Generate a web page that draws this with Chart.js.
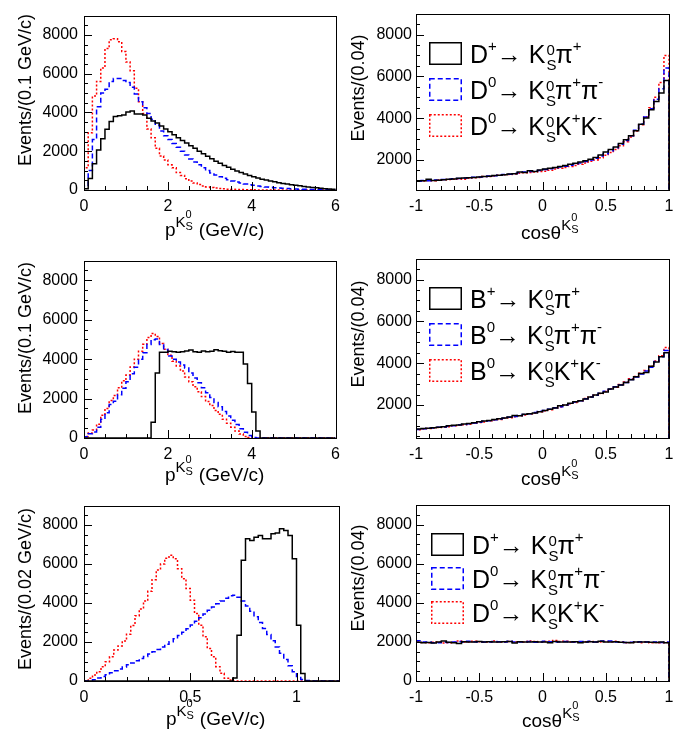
<!DOCTYPE html>
<html lang="en">
<head>
<meta charset="UTF-8">
<title>K_S momentum and helicity angle distributions</title>
<script src="https://cdn.jsdelivr.net/npm/chart.js"></script>
<style>
    body { margin: 0; background: #fff; }
    #page {
        position: relative;
        width: 694px;
        height: 739px;
        overflow: hidden;
        font-family: "Liberation Sans", Arial, Helvetica, sans-serif;
        color: #000;
    }
    canvas { position: absolute; }
    .ytitle {
        position: absolute;
        font-size: 18px;
        line-height: 18px;
        white-space: nowrap;
        transform: translate(-50%, -50%) rotate(-90deg);
    }
    .xtitle { position: absolute; font-size: 19px; line-height: 19px; white-space: nowrap; }
    .xtitle .k { position: relative; top: -9px; font-size: 15px; }
    .xtitle .ss { display: inline-block; position: relative; width: 8px; height: 0; }
    .xtitle .ss span { position: absolute; left: 0; font-size: 11px; line-height: 11px; }
    .xtitle .ss .u { top: -27px; }
    .xtitle .ss .d { top: -15px; }
    .key { position: absolute; width: 33px; height: 23px; }
    .leg { position: absolute; font-size: 25px; line-height: 25px; white-space: nowrap; }
    .leg .sp { position: relative; top: -12px; font-size: 15px; }
    .leg .ss { display: inline-block; position: relative; width: 10px; height: 0; }
    .leg .ss span { position: absolute; left: 1px; font-size: 15px; line-height: 15px; }
    .leg .ss .u { top: -21px; }
    .leg .ss .d { top: -6px; }
</style>
</head>
<body>
<div id="page"></div>
<script>
// ---- data (events per bin) ----
// bins: [first edge, bin width]
const pBins = [0, 0.1];       // 60 bins, 0..6 GeV/c
const pBinsFine = [0, 0.02];  // 60 bins, 0..1.2 GeV/c
const cosBins = [-1, 0.04];   // 50 bins, -1..1

// top row, D decays
const pDplusKspi = [60, 590, 1350, 2060, 2640, 3130, 3540, 3790, 3830, 3870,
    4030, 4080, 3920, 3920, 3870, 3700, 3560, 3460, 3300, 3150,
    3000, 2850, 2700, 2560, 2420, 2280, 2150, 2000, 1870, 1740,
    1610, 1490, 1380, 1270, 1170, 1070, 980, 900, 820, 750,
    680, 620, 560, 510, 460, 420, 380, 340, 305, 275,
    245, 215, 185, 160, 135, 110, 90, 70, 50, 35];
const pD0Kspipi = [200, 1000, 2600, 4300, 5000, 5200, 5600, 5750, 5750, 5650,
    5550, 5300, 4950, 4550, 4250, 3950, 3650, 3350, 3050, 2800,
    2600, 2400, 2200, 2000, 1800, 1600, 1450, 1300, 1150, 1000,
    880, 780, 690, 600, 530, 470, 410, 360, 310, 270,
    240, 210, 180, 160, 140, 120, 100, 85, 72, 60,
    50, 42, 35, 28, 22, 18, 14, 10, 8, 6];
const pD0KsKK = [1150, 2950, 4850, 5600, 6300, 7300, 7750, 7800, 7650, 7150,
    6600, 6150, 5250, 4550, 3950, 3150, 2700, 2150, 1750, 1550,
    1300, 1150, 900, 750, 580, 460, 360, 280, 210, 160,
    130, 100, 80, 60, 45, 35, 25, 20, 15, 10,
    8, 6, 5, 4, 3, 2, 2, 1, 1, 1,
    0, 0, 0, 0, 0, 0, 0, 0, 0, 0];
const cosDplusKspi = [1000, 1000, 1080, 1020, 1030, 1050, 1080, 1090, 1120, 1140,
    1150, 1160, 1180, 1200, 1220, 1250, 1270, 1290, 1320, 1340,
    1420, 1400, 1480, 1440, 1520, 1570, 1600, 1640, 1690, 1730,
    1790, 1840, 1900, 1960, 2030, 2120, 2230, 2380, 2500, 2620,
    2780, 2960, 3150, 3400, 3700, 4000, 4400, 4800, 5200, 5800];
const cosD0Kspipi = [980, 1010, 1000, 1040, 1030, 1060, 1070, 1100, 1110, 1130,
    1150, 1170, 1180, 1190, 1230, 1240, 1280, 1300, 1310, 1350,
    1380, 1420, 1440, 1470, 1490, 1540, 1580, 1610, 1660, 1700,
    1740, 1800, 1850, 1920, 1990, 2080, 2190, 2300, 2440, 2580,
    2750, 2930, 3150, 3420, 3720, 4050, 4450, 4900, 5400, 6400];
const cosD0KsKK = [990, 990, 1020, 1000, 1040, 1050, 1060, 1070, 1090, 1080,
    1120, 1150, 1160, 1200, 1210, 1230, 1260, 1290, 1300, 1320,
    1360, 1380, 1400, 1420, 1450, 1460, 1500, 1560, 1600, 1640,
    1690, 1730, 1790, 1850, 1930, 2000, 2100, 2220, 2350, 2500,
    2680, 2870, 3100, 3380, 3680, 4050, 4500, 5000, 5700, 7000];

// middle row, B decays
const pBplusKspi = [0, 0, 0, 0, 0, 0, 0, 0, 0, 0,
    0, 0, 0, 0, 0, 0, 800, 3300, 4350, 4350,
    4400, 4380, 4350, 4380, 4420, 4470, 4380, 4350, 4420, 4380,
    4400, 4480, 4430, 4400, 4350, 4390, 4350, 4350, 3750, 2770,
    1320, 350, 0, 0, 0, 0, 0, 0, 0, 0,
    0, 0, 0, 0, 0, 0, 0, 0, 0, 0];
const pB0Kspipi = [60, 214, 300, 540, 950, 1280, 1700, 1860, 2190, 2520,
    2850, 3260, 3590, 4000, 4330, 4740, 4990, 5020, 4740, 4490,
    4160, 4000, 3850, 3700, 3550, 3300, 3050, 2800, 2550, 2300,
    2050, 1800, 1580, 1350, 1120, 900, 680, 470, 290, 130,
    20, 0, 0, 0, 0, 0, 0, 0, 0, 0,
    0, 0, 0, 0, 0, 0, 0, 0, 0, 0];
const pB0KsKK = [80, 250, 400, 700, 1150, 1500, 1900, 2150, 2550, 2900,
    3200, 3600, 4000, 4400, 4750, 5100, 5300, 5150, 4800, 4500,
    4200, 3900, 3650, 3400, 3100, 2850, 2600, 2350, 2100, 1850,
    1650, 1400, 1200, 950, 750, 550, 350, 200, 80, 20,
    0, 0, 0, 0, 0, 0, 0, 0, 0, 0,
    0, 0, 0, 0, 0, 0, 0, 0, 0, 0];
const cosBplusKspi = [850, 870, 890, 910, 930, 960, 1000, 1030, 1040, 1090,
    1110, 1150, 1200, 1230, 1260, 1300, 1340, 1380, 1420, 1500,
    1480, 1560, 1580, 1620, 1680, 1740, 1800, 1860, 1960, 2000,
    2080, 2150, 2200, 2280, 2380, 2480, 2560, 2620, 2760, 2860,
    2950, 3080, 3200, 3350, 3500, 3550, 3850, 4050, 4300, 4500];
const cosB0Kspipi = [830, 860, 900, 900, 940, 950, 980, 1010, 1050, 1070,
    1100, 1140, 1170, 1220, 1250, 1290, 1330, 1360, 1410, 1450,
    1500, 1540, 1580, 1640, 1700, 1730, 1790, 1870, 1920, 2000,
    2060, 2140, 2200, 2300, 2380, 2470, 2560, 2660, 2750, 2870,
    2960, 3080, 3220, 3340, 3480, 3620, 3800, 4080, 4300, 4600];
const cosB0KsKK = [820, 850, 880, 900, 920, 940, 960, 1000, 1030, 1050,
    1080, 1120, 1160, 1190, 1240, 1280, 1310, 1360, 1390, 1440,
    1480, 1520, 1580, 1620, 1680, 1720, 1770, 1850, 1900, 1990,
    2060, 2120, 2200, 2310, 2380, 2460, 2550, 2640, 2780, 2850,
    2980, 3100, 3250, 3360, 3520, 3650, 3850, 4100, 4350, 4750];

// bottom row, D decays (fine momentum bins)
const fDplusKspi = [0, 0, 0, 0, 0, 0, 0, 0, 0, 0,
    0, 0, 0, 0, 0, 0, 0, 0, 0, 0,
    0, 0, 0, 0, 0, 0, 0, 0, 0, 0,
    0, 0, 0, 0, 0, 150, 2350, 6190, 7300, 7210,
    7380, 7470, 7300, 7300, 7550, 7600, 7810, 7720, 7470, 6270,
    2860, 390, 0, 0, 0, 0, 0, 0, 0, 0];
const fD0Kspipi = [0, 0, 60, 150, 230, 320, 420, 520, 620, 720,
    830, 930, 1040, 1150, 1260, 1380, 1500, 1620, 1750, 1880,
    2020, 2170, 2330, 2500, 2680, 2870, 3060, 3250, 3440, 3630,
    3800, 3960, 4110, 4250, 4370, 4400, 4300, 4100, 3850, 3580,
    3300, 3000, 2700, 2380, 2060, 1750, 1430, 1100, 780, 480,
    230, 80, 20, 0, 0, 0, 0, 0, 0, 0];
const fD0KsKK = [0, 136, 307, 477, 733, 990, 1245, 1586, 1800, 2050,
    2400, 2850, 3350, 3700, 4100, 4600, 5200, 5700, 6000, 6300,
    6450, 6270, 5760, 5250, 4740, 4140, 3460, 2860, 2270, 1670,
    1245, 733, 392, 136, 50, 0, 0, 0, 0, 0,
    0, 0, 0, 0, 0, 0, 0, 0, 0, 0,
    0, 0, 0, 0, 0, 0, 0, 0, 0, 0];
const cosDplusFlat = [1980, 1950, 1970, 1940, 1990, 2040, 1980, 1950, 1920, 2010,
    1990, 2000, 2020, 2000, 2010, 1990, 2000, 2010, 2020, 1940,
    2010, 2000, 1990, 2010, 1990, 2000, 1960, 2020, 1990, 2000,
    1990, 2010, 1960, 2000, 2010, 2000, 2030, 2000, 1990, 2010,
    1980, 1970, 1960, 2000, 1990, 2000, 1980, 1970, 1990, 1960];
const cosD0pipiFlat = [2060, 2000, 1990, 1960, 1950, 1990, 1970, 2000, 2020, 1980,
    2030, 2010, 2000, 2000, 1990, 2020, 2010, 2000, 2030, 1990,
    2000, 2010, 2020, 1980, 2000, 2030, 2010, 2000, 2010, 2020,
    2010, 2000, 2020, 2000, 2030, 2000, 2040, 2030, 2050, 2000,
    1990, 1970, 1980, 2000, 2010, 1990, 1980, 2000, 1970, 2000];
const cosD0KKFlat = [1990, 1970, 1950, 1980, 1990, 1940, 1960, 1980, 2040, 2000,
    1990, 2030, 2010, 1990, 2000, 2040, 2000, 1990, 2020, 2000,
    2010, 1990, 2040, 2020, 2000, 2020, 2030, 2070, 2020, 2030,
    2000, 1980, 2000, 2010, 2020, 1990, 2000, 2020, 2010, 2030,
    2000, 1960, 1970, 1980, 1960, 1990, 1960, 1970, 1950, 1970];

// tick labels
const pTicks = [0, 2, 4, 6];
const pTicksFine = [0, 0.5, 1];
const cosTicks = [-1, -0.5, 0, 0.5, 1];
const evTicks = [0, 2000, 4000, 6000, 8000];
const evTicksCos = [2000, 4000, 6000, 8000];

// ---- drawing ----
const FONT = '"Liberation Sans", Arial, Helvetica, sans-serif';
const LINES = [
    { color: '#000000', dash: [] },
    { color: '#0000ff', dash: [5, 3] },
    { color: '#ff0000', dash: [2, 2] }
];

// histogram outline as points on bin edges, drawn with stepped lines
function histPoints(bins, values) {
    const [x0, w] = bins;
    const pts = [{ x: x0, y: 0 }];
    values.forEach((v, i) => pts.push({ x: x0 + i * w, y: v }));
    const end = x0 + values.length * w;
    pts.push({ x: end, y: values[values.length - 1] });
    pts.push({ x: end, y: 0 });
    return pts;
}

// ROOT-like frame with inward tick marks
const frameTicks = {
    id: 'frameTicks',
    afterDraw(chart, args, o) {
        const { ctx, chartArea: a } = chart;
        const xs = chart.scales.x, ys = chart.scales.y;
        ctx.save();
        ctx.setLineDash([]);
        ctx.strokeStyle = '#000';
        ctx.lineWidth = 1;
        ctx.beginPath();
        const marks = (scale, step, majors, draw) => {
            const n0 = Math.ceil(scale.min / step - 1e-6);
            const n1 = Math.floor(scale.max / step + 1e-6);
            for (let n = n0; n <= n1; n++) {
                const v = n * step;
                const big = majors.some(m => Math.abs(m - v) < step / 10);
                draw(Math.round(scale.getPixelForValue(v)) + 0.5, big ? 8 : 4);
            }
        };
        marks(xs, o.xMinor, o.xMajor, (p, len) => { ctx.moveTo(p, a.bottom); ctx.lineTo(p, a.bottom - len); });
        marks(ys, o.yMinor, o.yMajor, (p, len) => { ctx.moveTo(a.left, p); ctx.lineTo(a.left + len, p); });
        ctx.stroke();
        ctx.strokeRect(Math.round(a.left) + 0.5, Math.round(a.top) + 0.5,
            Math.round(a.right - a.left), Math.round(a.bottom - a.top));
        ctx.restore();
    }
};

const page = document.getElementById('page');

function panel(p) {
    const cv = document.createElement('canvas');
    cv.width = p.w; cv.height = p.h;
    cv.style.left = p.left + 'px'; cv.style.top = p.top + 'px';
    page.appendChild(cv);

    new Chart(cv.getContext('2d'), {
        type: 'line',
        data: {
            datasets: p.series.map((vals, i) => ({
                data: histPoints(p.bins, vals),
                borderColor: LINES[i].color,
                borderDash: LINES[i].dash,
                borderWidth: 1.5,
                stepped: true,
                pointRadius: 0,
                fill: false
            }))
        },
        options: {
            responsive: false,
            animation: false,
            devicePixelRatio: 1,
            layout: { padding: { top: p.padTop, right: p.padRight, left: 0, bottom: 0 } },
            plugins: {
                legend: { display: false },
                tooltip: { enabled: false },
                frameTicks: { xMinor: p.xMinor, xMajor: p.xTicks, yMinor: 500, yMajor: p.yTicks }
            },
            scales: {
                x: {
                    type: 'linear', min: p.xMin, max: p.xMax,
                    afterBuildTicks: s => { s.ticks = p.xTicks.map(v => ({ value: v })); },
                    afterFit: s => { s.height = p.xAxisH; },
                    grid: { display: false, drawTicks: false },
                    border: { display: false },
                    ticks: {
                        autoSkip: false, maxRotation: 0, padding: 7, color: '#000',
                        font: { family: FONT, size: 16 },
                        callback: v => String(v)
                    }
                },
                y: {
                    type: 'linear', min: p.yMin, max: p.yMax,
                    afterBuildTicks: s => { s.ticks = p.yTicks.map(v => ({ value: v })); },
                    afterFit: s => { s.width = p.yAxisW; },
                    grid: { display: false, drawTicks: false },
                    border: { display: false },
                    ticks: {
                        padding: p.yPad, color: '#000',
                        font: { family: FONT, size: 16 },
                        callback: v => String(v)
                    }
                }
            }
        },
        plugins: [frameTicks]
    });
}

function addDiv(cls, html, css) {
    const d = document.createElement('div');
    d.className = cls;
    d.innerHTML = html;
    Object.assign(d.style, css);
    page.appendChild(d);
    return d;
}

const ss = '<span class="ss"><span class="u">0</span><span class="d">S</span></span>';
const up = s => '<span class="sp">' + s + '</span>';
const KS = 'K' + ss;
const pTitle = 'p<span class="k">K</span>' + ss + ' (GeV/c)';
const cosTitle = 'cos&theta;<span class="k">K</span>' + ss;
const decayLabels = M => [
    M + up('+') + '&rarr; ' + KS + '&pi;' + up('+'),
    M + up('0') + '&rarr; ' + KS + '&pi;' + up('+') + '&pi;' + up('-'),
    M + up('0') + '&rarr; ' + KS + 'K' + up('+') + 'K' + up('-')
];

// legend key: white box outlined in the series line style
function keySvg(i) {
    const dash = LINES[i].dash.length ? ' stroke-dasharray="' + LINES[i].dash.join(',') + '"' : '';
    return '<svg width="33" height="23" xmlns="http://www.w3.org/2000/svg">' +
        '<rect x="0.75" y="0.75" width="31.5" height="21.5" fill="#fff" stroke="' +
        LINES[i].color + '" stroke-width="1.5"' + dash + '/></svg>';
}

function legend(x, y0, pitch, labels) {
    labels.forEach((lab, i) => {
        const top = y0 + i * pitch;
        addDiv('key', keySvg(i), { left: x + 'px', top: top + 'px' });
        addDiv('leg', lab, { left: (x + 41) + 'px', top: top + 'px' });
    });
}

const L = { left: 0, w: 347, yAxisW: 84, padRight: 8, yPad: 6 };
const R = { left: 347, w: 347, yAxisW: 69, padRight: 25, yPad: 4 };
const ROW1 = { top: 0, h: 245, xAxisH: 55 };
const ROW2 = { top: 245, h: 245, padTop: 10, xAxisH: 52 };
const ROW3 = { top: 490, h: 249, padTop: 15, xAxisH: 58 };

const pAxis = { xMin: 0, xMax: 6, xTicks: pTicks, xMinor: 0.5, bins: pBins };
const fAxis = { xMin: 0, xMax: 1.2, xTicks: pTicksFine, xMinor: 0.1, bins: pBinsFine };
const cAxis = { xMin: -1, xMax: 1, xTicks: cosTicks, xMinor: 0.1, bins: cosBins };

panel({ ...L, ...ROW1, padTop: 7, ...pAxis, yMin: 0, yMax: 9000, yTicks: evTicks,
    series: [pDplusKspi, pD0Kspipi, pD0KsKK] });
panel({ ...R, ...ROW1, padTop: 8, ...cAxis, yMin: 560, yMax: 9000, yTicks: evTicksCos,
    series: [cosDplusKspi, cosD0Kspipi, cosD0KsKK] });
panel({ ...L, ...ROW2, ...pAxis, yMin: 0, yMax: 9000, yTicks: evTicks,
    series: [pBplusKspi, pB0Kspipi, pB0KsKK] });
panel({ ...R, ...ROW2, ...cAxis, yMin: 420, yMax: 9000, yTicks: evTicksCos,
    series: [cosBplusKspi, cosB0Kspipi, cosB0KsKK] });
panel({ ...L, ...ROW3, ...fAxis, yMin: 0, yMax: 9000, yTicks: evTicks,
    series: [fDplusKspi, fD0Kspipi, fD0KsKK] });
panel({ ...R, ...ROW3, ...cAxis, yMin: 0, yMax: 9000, yTicks: evTicks,
    series: [cosDplusFlat, cosD0pipiFlat, cosD0KKFlat] });

// axis titles
addDiv('ytitle', 'Events/(0.1 GeV/c)', { left: '25px', top: '90px' });
addDiv('ytitle', 'Events/(0.1 GeV/c)', { left: '25px', top: '338px' });
addDiv('ytitle', 'Events/(0.02 GeV/c)', { left: '25px', top: '589px' });
addDiv('ytitle', 'Events/(0.04)', { left: '358px', top: '88px' });
addDiv('ytitle', 'Events/(0.04)', { left: '358px', top: '334px' });
addDiv('ytitle', 'Events/(0.04)', { left: '358px', top: '578px' });

addDiv('xtitle', pTitle, { left: '165px', top: '220px' });
addDiv('xtitle', pTitle, { left: '165px', top: '465px' });
addDiv('xtitle', pTitle, { left: '166px', top: '709px' });
addDiv('xtitle', cosTitle, { left: '521px', top: '223px' });
addDiv('xtitle', cosTitle, { left: '521px', top: '469px' });
addDiv('xtitle', cosTitle, { left: '522px', top: '711px' });

// legends
legend(429, 42, 36, decayLabels('D'));
legend(429, 287, 36, decayLabels('B'));
legend(431, 533, 34, decayLabels('D'));
</script>
</body>
</html>
